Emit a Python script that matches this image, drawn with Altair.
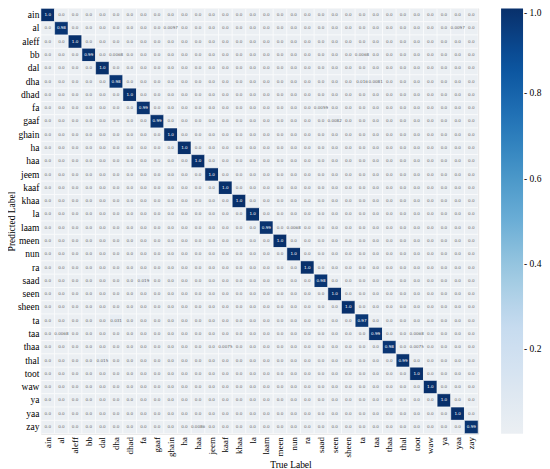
import altair as alt
import pandas as pd

labels = ["ain", "al", "aleff", "bb", "dal", "dha", "dhad", "fa", "gaaf", "ghain",
          "ha", "haa", "jeem", "kaaf", "khaa", "la", "laam", "meen", "nun", "ra",
          "saad", "seen", "sheen", "ta", "taa", "thaa", "thal", "toot", "waw", "ya",
          "yaa", "zay"]

diag_vals = [1.0, 0.98, 1.0, 0.99, 1.0, 0.98, 1.0, 0.99, 0.99, 1.0,
             1.0, 1.0, 1.0, 1.0, 1.0, 1.0, 0.99, 1.0, 1.0, 1.0,
             0.98, 1.0, 1.0, 0.97, 0.99, 0.98, 0.99, 1.0, 1.0, 1.0,
             1.0, 0.99]

off_pred = ["al", "al", "bb", "bb", "dha", "dha", "fa", "gaaf", "laam", "saad",
            "ta", "taa", "taa", "thaa", "thaa", "thal", "zay"]
off_true = ["ghain", "yaa", "dha", "ta", "ta", "taa", "saad", "seen", "nun", "fa",
            "dha", "al", "toot", "kaaf", "toot", "dal", "haa"]
off_vals = [0.0097, 0.0097, 0.0068, 0.0068, 0.016, 0.0081, 0.0059, 0.0082, 0.0068, 0.019,
            0.031, 0.0068, 0.0068, 0.0075, 0.0075, 0.015, 0.0086]

off_map = {(p, t): v for p, t, v in zip(off_pred, off_true, off_vals)}
rows = []
for i, p in enumerate(labels):
    for j, t in enumerate(labels):
        if i == j:
            v = diag_vals[i]
        else:
            v = off_map.get((p, t), 0.0)
        rows.append({"pred": p, "true": t, "value": v, "label": str(v)})
df = pd.DataFrame(rows)

color_domain = [0, 0.125, 0.25, 0.375, 0.5, 0.625, 0.75, 0.875, 1.0]
color_range = ["#ebeff3", "#d9e5f1", "#c6dbef", "#9ecae1", "#6baed6",
               "#4292c6", "#2171b5", "#08519c", "#08306b"]

font = "Times New Roman, Liberation Serif, serif"

base = alt.Chart(df).encode(
    x=alt.X("true:N", sort=labels,
            axis=alt.Axis(title="True Label", labelAngle=-90, labelFont=font,
                          labelFontSize=9, titleFont=font, titleFontSize=9.5,
                          titleFontWeight="normal", ticks=False, domain=False,
                          labelPadding=3, titlePadding=2, labelColor="black",
                          titleX=250)),
    y=alt.Y("pred:N", sort=labels,
            axis=alt.Axis(title="Predicted Label", labelFont=font, labelFontSize=9.5,
                          titleFont=font, titleFontSize=9.5, titleFontWeight="normal",
                          ticks=False, domain=False, labelPadding=2, titlePadding=1,
                          labelColor="black")),
)

rects = base.mark_rect(stroke="white", strokeWidth=0.5).encode(
    color=alt.Color("value:Q",
                    scale=alt.Scale(domain=color_domain, range=color_range),
                    legend=alt.Legend(title=None, gradientLength=426, gradientThickness=22,
                                      values=[0.2, 0.4, 0.6, 0.8, 1.0], format=".1f",
                                      labelExpr="'- ' + format(datum.value, '.1f')",
                                      labelFont=font, labelFontSize=9.5, labelColor="black",
                                      labelOverlap=False, padding=0,
                                      offset=23, gradientStrokeWidth=0, labelOffset=1))
)

texts = base.mark_text(fontSize=4.1, font="DejaVu Sans").encode(
    text="label:N",
    color=alt.condition(alt.datum.value > 0.5, alt.value("white"), alt.value("#666666")),
)

chart = (rects + texts).properties(
    width=438, height=426,
    autosize=alt.AutoSizeParams(type="none"),
    padding={"left": 33, "top": 0, "right": 64, "bottom": 35},
).configure_view(stroke=None).configure(background="white")

chart.save("out.html", embed_options={"renderer": "svg", "actions": False})
